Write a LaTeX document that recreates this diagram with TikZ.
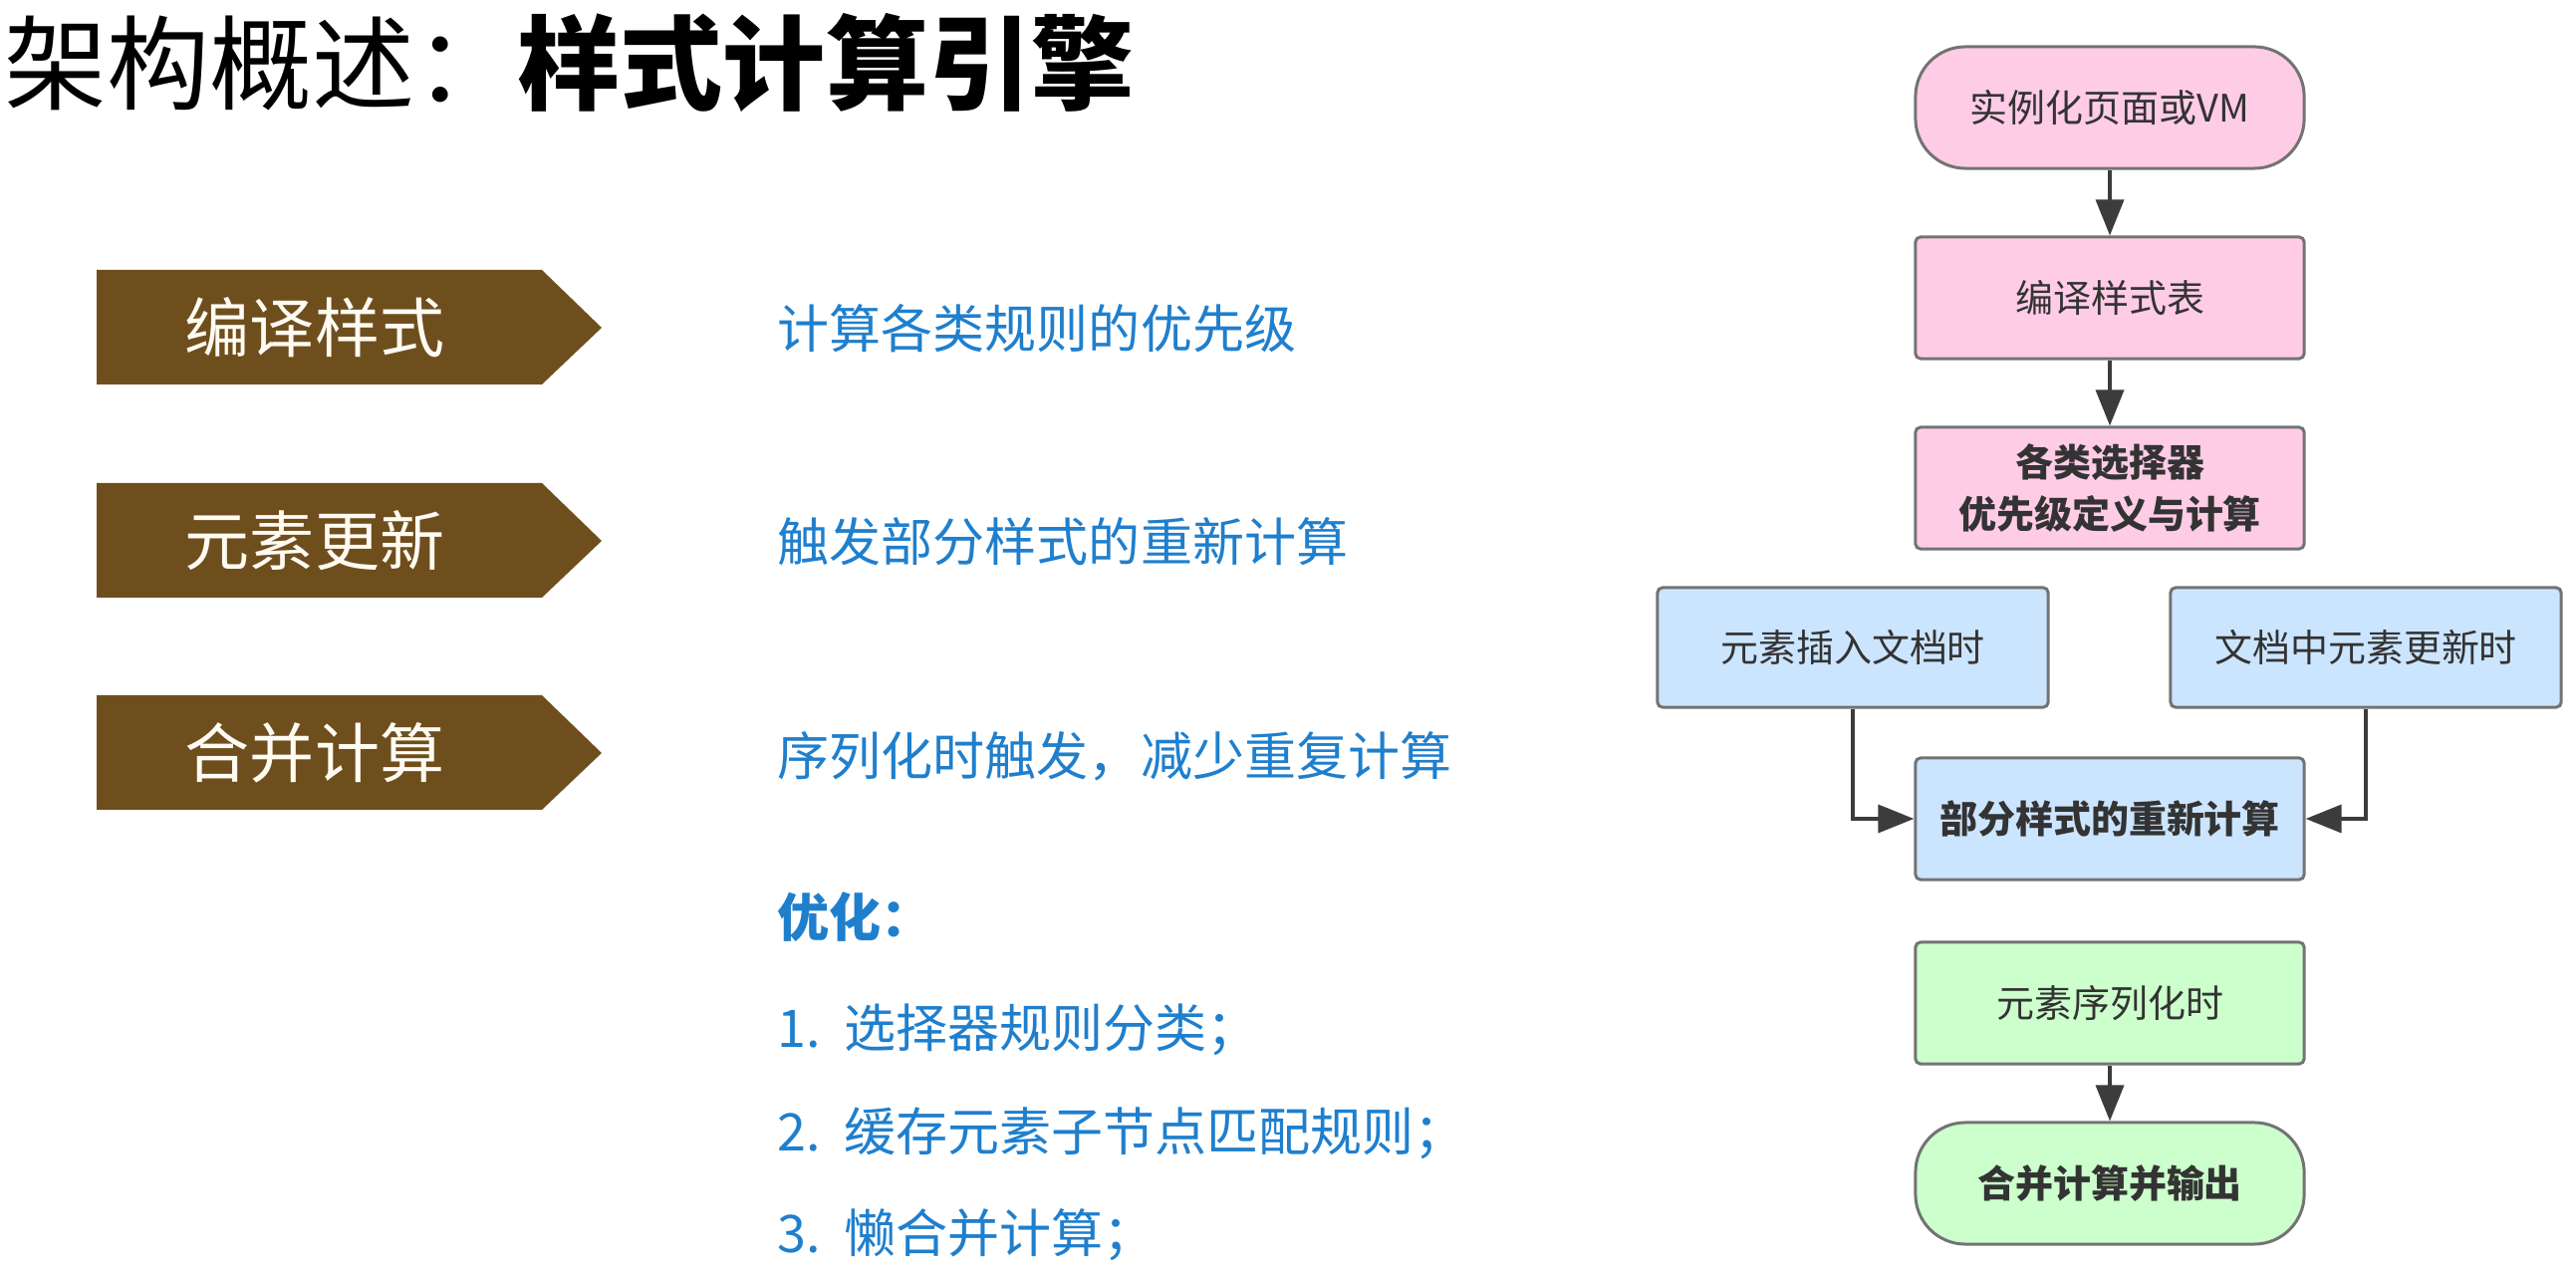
\documentclass[tikz,border=0pt]{standalone}
\usepackage{fontspec}
\setmainfont{Noto Sans CJK SC}
\usetikzlibrary{arrows.meta}
\definecolor{brownarrow}{RGB}{111,78,30}
\definecolor{cream}{RGB}{255,251,242}
\definecolor{bluetext}{RGB}{31,127,205}
\definecolor{pinkfill}{RGB}{255,204,230}
\definecolor{bluefill}{RGB}{204,229,255}
\definecolor{greenfill}{RGB}{204,255,204}
\definecolor{boxline}{RGB}{115,115,115}
\definecolor{fctext}{RGB}{51,51,51}
\definecolor{conn}{RGB}{60,60,60}
\tikzset{
  tagarrow/.style={fill=brownarrow, draw=none},
  tagtext/.style={text=cream, font=\fontsize{18.5}{20}\selectfont, inner sep=0pt},
  desc/.style={text=bluetext, font=\fontsize{14.8}{16}\selectfont, anchor=west, inner sep=0pt},
  fcbox/.style={draw=boxline, line width=0.03cm, rounded corners=0.05cm, minimum width=3.9cm, minimum height=1.22cm, text=fctext, font=\fontsize{10.8}{15}\selectfont, align=center, inner sep=0pt},
  fcterm/.style={fcbox, rounded corners=0.5cm},
  pinkbox/.style={fill=pinkfill},
  bluebox/.style={fill=bluefill},
  greenbox/.style={fill=greenfill},
  flow/.style={draw=conn, line width=0.035cm, -{Triangle[length=0.36cm,width=0.28cm]}}
}
\begin{document}
\begin{tikzpicture}[x=0.01cm,y=-0.01cm]
\useasboundingbox (0,0) rectangle (2586,1274);
% title
\node[anchor=west, inner sep=0pt, font=\fontsize{29.3}{32}\selectfont] (title) at (4,63) {架构概述：\textbf{样式计算引擎}};
% left tag arrows
\foreach \n/\dy/\t in {a/0/编译样式, b/214/元素更新, c/427/合并计算}{
  \fill[tagarrow] (97,271+\dy) -- (544,271+\dy) -- (604,329+\dy) -- (544,386+\dy) -- (97,386+\dy) -- cycle;
  \node[tagtext] (tag\n) at (316,329+\dy) {\t};
}
% descriptions
\node[desc] (d1) at (780,330) {计算各类规则的优先级};
\node[desc] (d2) at (780,544) {触发部分样式的重新计算};
\node[desc] (d3) at (780,759) {序列化时触发，减少重复计算};
\node[desc, font=\fontsize{14.8}{16}\selectfont\bfseries] (opt) at (780,921) {优化：};
\node[desc] (o1) at (780,1034) {1.\ \ 选择器规则分类；};
\node[desc] (o2) at (780,1138) {2.\ \ 缓存元素子节点匹配规则；};
\node[desc] (o3) at (780,1240) {3.\ \ 懒合并计算；};
% flowchart
\node[fcterm, pinkbox] (n1) at (2118,108) {实例化页面或VM};
\node[fcbox, pinkbox] (n2) at (2118,299) {编译样式表};
\node[fcbox, pinkbox, font=\fontsize{10.8}{15}\selectfont\bfseries] (n3) at (2118,490) {各类选择器\\优先级定义与计算};
\node[fcbox, bluebox, minimum height=1.2cm, minimum width=3.92cm] (lb) at (1860,650) {元素插入文档时};
\node[fcbox, bluebox, minimum height=1.2cm, minimum width=3.92cm] (rb) at (2375,650) {文档中元素更新时};
\node[fcbox, bluebox, font=\fontsize{10.8}{15}\selectfont\bfseries] (part) at (2118,822) {部分样式的重新计算};
\node[fcbox, greenbox] (ser) at (2118,1007) {元素序列化时};
\node[fcterm, greenbox, font=\fontsize{10.8}{15}\selectfont\bfseries] (out) at (2118,1188) {合并计算并输出};
\draw[flow] (n1) -- (n2);
\draw[flow] (n2) -- (n3);
\draw[flow] (lb.south) |- (part.west);
\draw[flow] (rb.south) |- (part.east);
\draw[flow] (ser) -- (out);
\end{tikzpicture}
\end{document}
